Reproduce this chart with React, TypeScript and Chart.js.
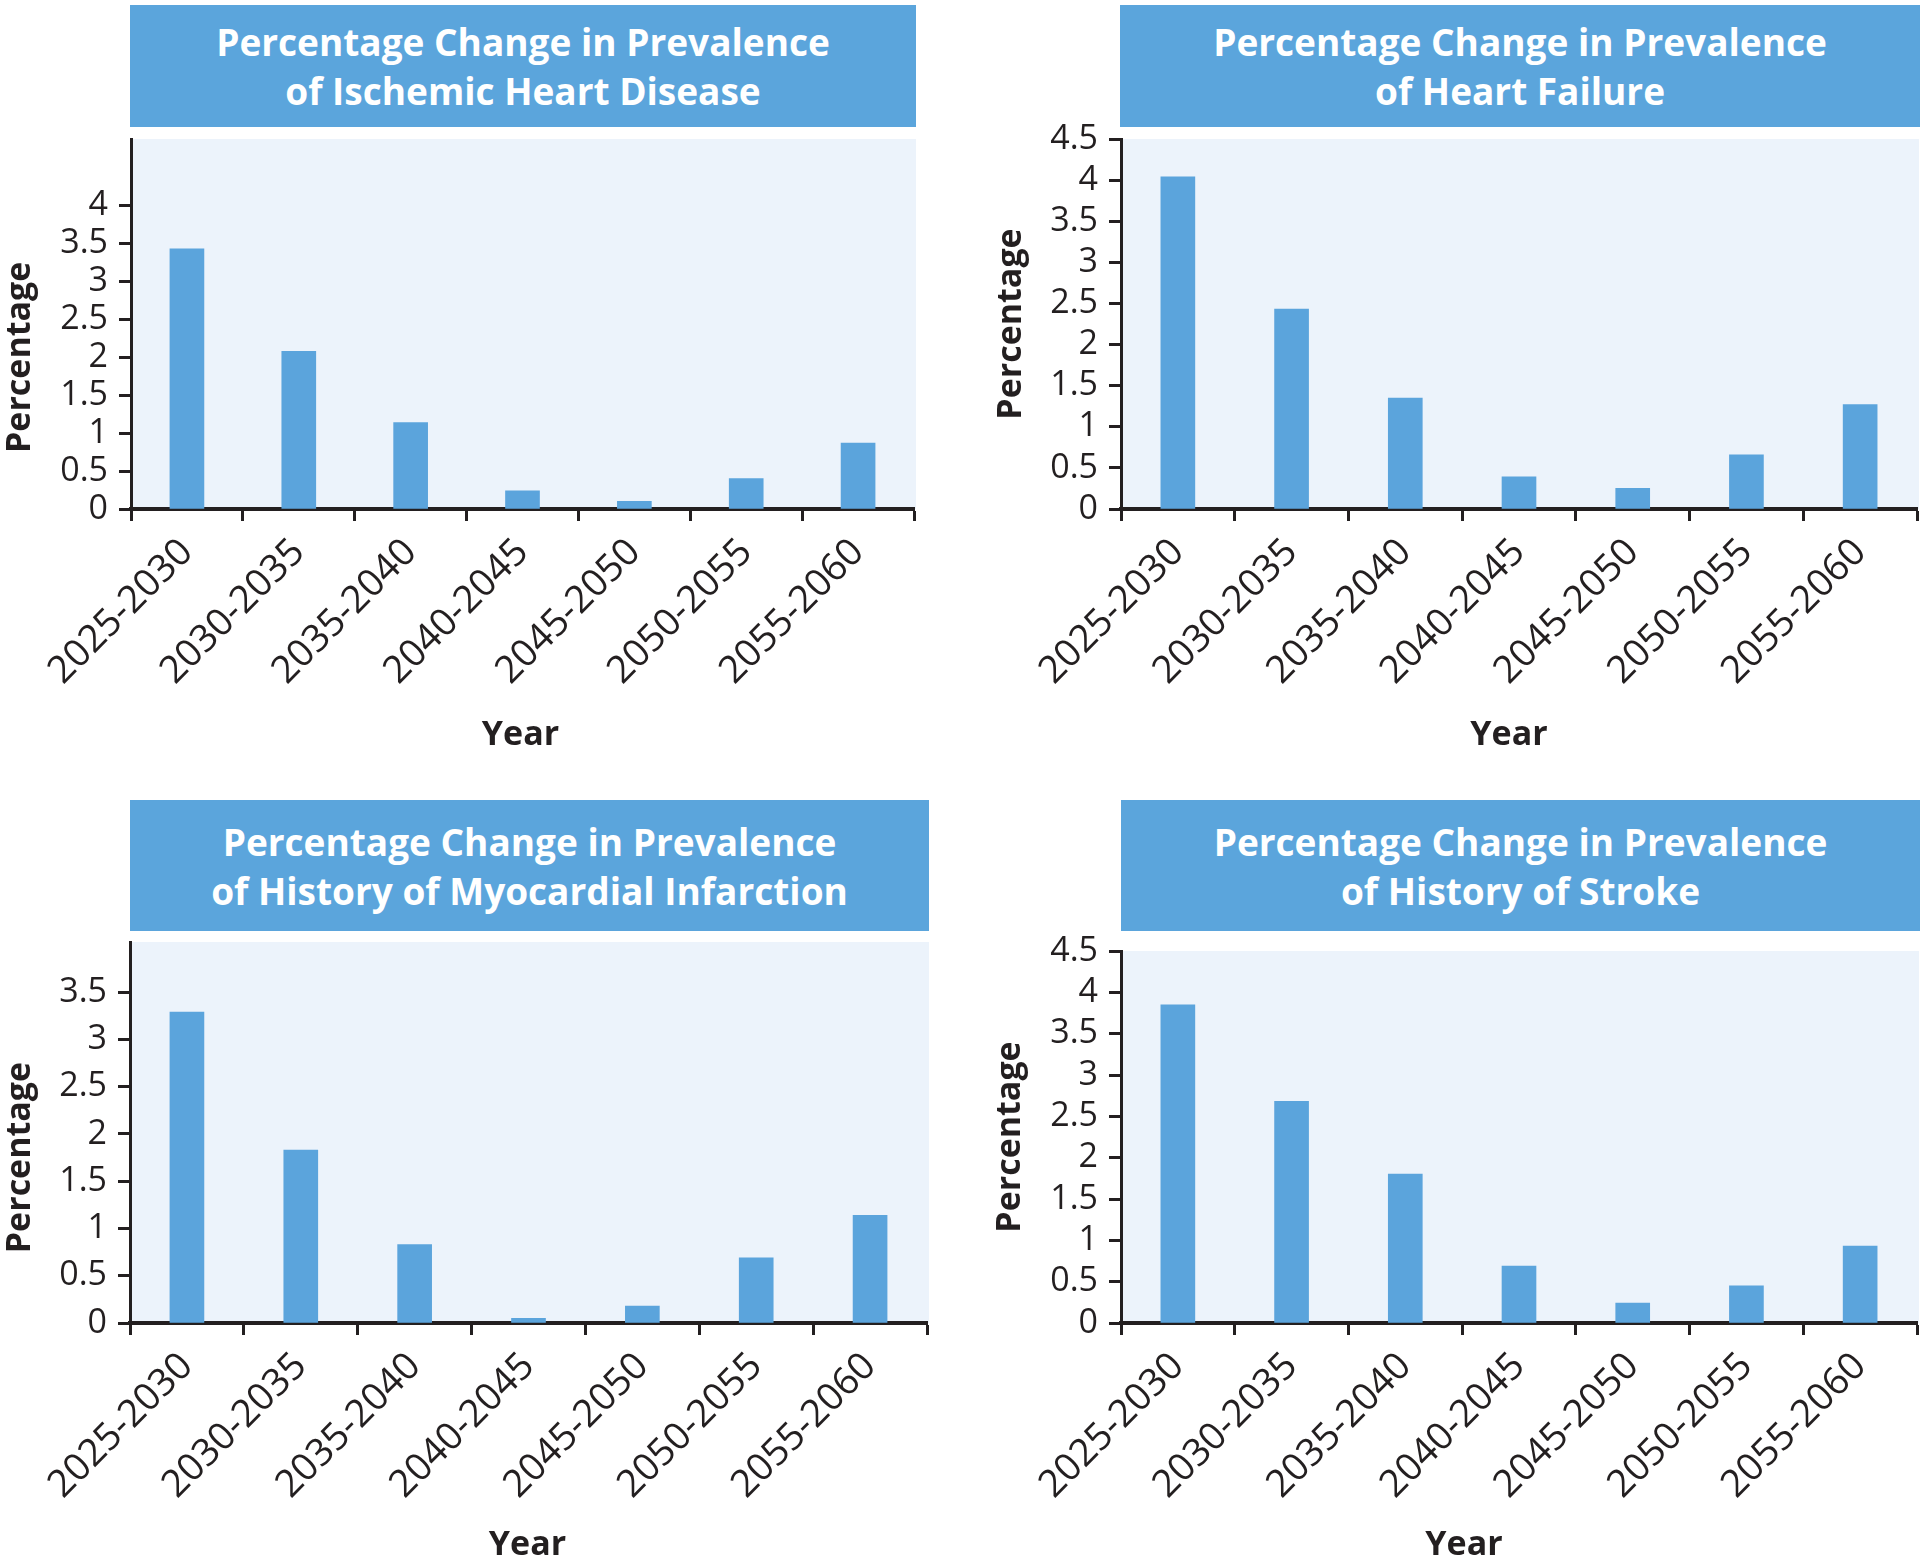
import React, { useEffect, useRef } from 'react';
import { Chart, registerables } from 'chart.js';

Chart.register(...registerables);

// ---- data ----
const categories = ['2025-2030', '2030-2035', '2035-2040', '2040-2045', '2045-2050', '2050-2055', '2055-2060'];
const ihdValues = [3.43, 2.08, 1.14, 0.24, 0.1, 0.4, 0.87];
const hfValues = [4.04, 2.43, 1.35, 0.39, 0.25, 0.66, 1.27];
const miValues = [3.29, 1.83, 0.83, 0.05, 0.18, 0.69, 1.14];
const strokeValues = [3.85, 2.68, 1.8, 0.69, 0.24, 0.45, 0.93];

const ihdTitle = ['Percentage Change in Prevalence', 'of Ischemic Heart Disease'];
const hfTitle = ['Percentage Change in Prevalence', 'of Heart Failure'];
const miTitle = ['Percentage Change in Prevalence', 'of History of Myocardial Infarction'];
const strokeTitle = ['Percentage Change in Prevalence', 'of History of Stroke'];

const yAxisTitle = 'Percentage';
const xAxisTitle = 'Year';

const BAR = '#5ba4dc';
const PLOT_BG = '#ecf3fb';
const TITLE_BG = '#5ba5dc';
const INK = '#231f20';
const TICK_FONT = '"Open Sans", sans-serif';

const plotBgPlugin = {
  id: 'plotBg',
  beforeDraw(chart: any) {
    const { ctx, chartArea } = chart;
    ctx.save();
    ctx.fillStyle = PLOT_BG;
    ctx.fillRect(chartArea.left, chartArea.top, chartArea.right - chartArea.left + 2, chartArea.bottom - chartArea.top);
    ctx.restore();
  },
};

const axisTitlesPlugin = {
  id: 'axisTitles',
  afterDraw(chart: any, _args: any, opts: any) {
    const { ctx, chartArea } = chart;
    const ys = chart.scales.y;
    const ticks = ys.ticks;
    const topPx = ys.getPixelForValue(ticks[ticks.length - 1].value);
    const botPx = ys.getPixelForValue(0);
    ctx.save();
    ctx.fillStyle = INK;
    ctx.font = 'bold 34px "Open Sans", sans-serif';
    ctx.textAlign = 'center';
    ctx.textBaseline = 'middle';
    ctx.translate(opts.yTitleX, (topPx + botPx) / 2);
    ctx.rotate(-Math.PI / 2);
    ctx.fillText(yAxisTitle, 0, 0);
    ctx.restore();
    ctx.save();
    ctx.fillStyle = INK;
    ctx.font = 'bold 34px "Open Sans", sans-serif';
    ctx.textAlign = 'center';
    ctx.textBaseline = 'middle';
    ctx.fillText(xAxisTitle, (chartArea.left + chartArea.right) / 2 + opts.xOffset, chartArea.bottom + opts.xDy);
    ctx.restore();
  },
};

type PanelProps = {
  title: string[];
  values: number[];
  max: number;
  labelMax: number;
  box: { left: number; top: number; width: number; height: number };
  canvas: { left: number; top: number; width: number; height: number };
  pad: { top: number; right: number; left: number; bottom: number };
  yAxisWidth: number;
  xAxisHeight: number;
  yTitleX: number;
  xOffset: number;
  xDy: number;
};

function Panel(p: PanelProps) {
  const ref = useRef<HTMLCanvasElement>(null);
  useEffect(() => {
    const chart = new Chart(ref.current as HTMLCanvasElement, {
      type: 'bar',
      data: {
        labels: categories,
        datasets: [{ data: p.values, backgroundColor: BAR, barThickness: 34 }],
      },
      options: {
        animation: false,
        responsive: false,
        maintainAspectRatio: false,
        layout: { padding: p.pad },
        plugins: {
          legend: { display: false },
          tooltip: { enabled: false },
          axisTitles: { yTitleX: p.yTitleX, xOffset: p.xOffset, xDy: p.xDy },
        } as any,
        scales: {
          x: {
            offset: true,
            grid: {
              display: true,
              offset: true,
              drawOnChartArea: false,
              drawTicks: true,
              tickLength: 12,
              tickWidth: 3,
              tickColor: INK,
            },
            border: { display: true, color: INK, width: 4 },
            ticks: {
              color: INK,
              font: { family: TICK_FONT, size: 38 },
              maxRotation: 45,
              minRotation: 45,
              padding: 9,
              autoSkip: false,
            },
            afterFit: (s: any) => {
              s.height = p.xAxisHeight;
            },
          },
          y: {
            min: 0,
            max: p.max,
            ticks: {
              stepSize: 0.5,
              maxTicksLimit: 20,
              color: INK,
              font: { family: TICK_FONT, size: 34, lineHeight: 0.8 },
              padding: 11,
              callback: (v: any) => String(Math.round(Number(v) * 10) / 10),
            },
            grid: {
              drawOnChartArea: false,
              drawTicks: true,
              tickLength: 12,
              tickWidth: 3,
              tickColor: INK,
            },
            border: { display: true, color: INK, width: 3 },
            afterBuildTicks: (s: any) => {
              s.ticks = s.ticks.filter((t: any) => t.value <= p.labelMax + 1e-6);
            },
            afterFit: (s: any) => {
              s.width = p.yAxisWidth;
            },
          },
        },
      } as any,
      plugins: [plotBgPlugin, axisTitlesPlugin],
    });
    return () => chart.destroy();
  }, []);

  return (
    <>
      <div
        style={{
          position: 'absolute',
          left: p.box.left,
          top: p.box.top,
          width: p.box.width,
          height: p.box.height,
          background: TITLE_BG,
          color: '#ffffff',
          display: 'flex',
          flexDirection: 'column',
          alignItems: 'center',
          justifyContent: 'center',
          fontFamily: '"Open Sans", sans-serif',
          fontWeight: 700,
          fontSize: 37,
          lineHeight: '49px',
          textAlign: 'center',
        }}
      >
        {p.title.map((t, i) => (
          <div key={i}>{t}</div>
        ))}
      </div>
      <canvas
        ref={ref}
        width={p.canvas.width}
        height={p.canvas.height}
        style={{
          position: 'absolute',
          left: p.canvas.left,
          top: p.canvas.top,
          width: p.canvas.width,
          height: p.canvas.height,
        }}
      />
    </>
  );
}

export default function App() {
  return (
    <div style={{ position: 'absolute', left: 0, top: 0, width: 1920, height: 1564, background: '#ffffff', overflow: 'hidden' }}>
      <Panel
        title={ihdTitle}
        values={ihdValues}
        max={4.88}
        labelMax={4}
        box={{ left: 130, top: 5, width: 786, height: 122 }}
        canvas={{ left: 0, top: 109, width: 930, height: 676 }}
        pad={{ top: 30, right: 16, left: 0, bottom: 0 }}
        yAxisWidth={131}
        xAxisHeight={276}
        yTitleX={20}
        xOffset={-2}
        xDy={226}
      />
      <Panel
        title={hfTitle}
        values={hfValues}
        max={4.5}
        labelMax={4.5}
        box={{ left: 1120, top: 5, width: 800, height: 122 }}
        canvas={{ left: 960, top: 109, width: 960, height: 676 }}
        pad={{ top: 30, right: 3, left: 0, bottom: 0 }}
        yAxisWidth={161}
        xAxisHeight={276}
        yTitleX={51}
        xOffset={-10}
        xDy={226}
      />
      <Panel
        title={miTitle}
        values={miValues}
        max={4.03}
        labelMax={3.5}
        box={{ left: 130, top: 800, width: 799, height: 131 }}
        canvas={{ left: 0, top: 912, width: 945, height: 652 }}
        pad={{ top: 30, right: 18, left: 0, bottom: 0 }}
        yAxisWidth={130}
        xAxisHeight={241}
        yTitleX={20}
        xOffset={-1}
        xDy={222}
      />
      <Panel
        title={strokeTitle}
        values={strokeValues}
        max={4.5}
        labelMax={4.5}
        box={{ left: 1121, top: 800, width: 799, height: 131 }}
        canvas={{ left: 960, top: 921, width: 960, height: 643 }}
        pad={{ top: 30, right: 3, left: 0, bottom: 0 }}
        yAxisWidth={161}
        xAxisHeight={241}
        yTitleX={50}
        xOffset={-55}
        xDy={222}
      />
    </div>
  );
}
